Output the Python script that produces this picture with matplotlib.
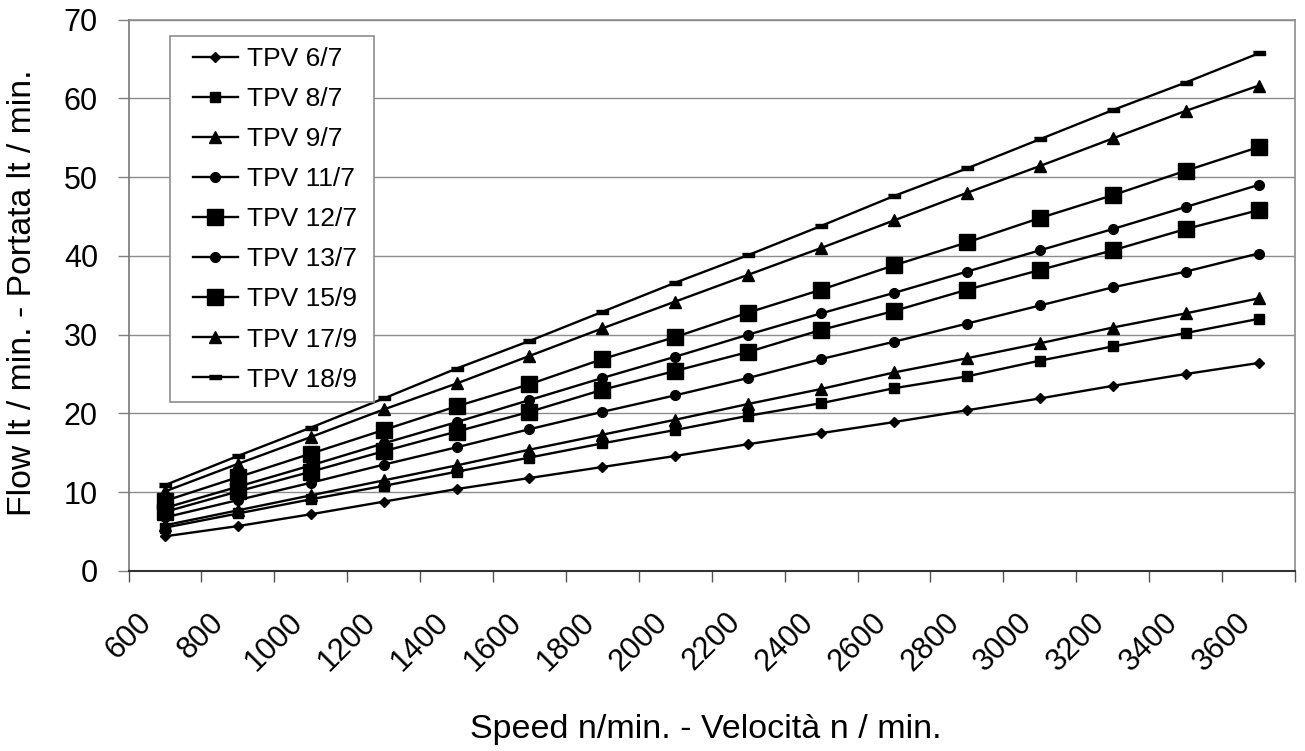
import matplotlib.pyplot as plt
from matplotlib.patches import Rectangle

plt.rcParams['font.family'] = ['Liberation Sans', 'DejaVu Sans']

# speed n/min
speed = [700, 900, 1100, 1300, 1500, 1700, 1900, 2100,
         2300, 2500, 2700, 2900, 3100, 3300, 3500, 3700]

# flow lt/min
tpv_6_7 = [4.4, 5.7, 7.2, 8.8, 10.4, 11.8, 13.2, 14.6, 16.1, 17.5, 18.9, 20.4, 21.9, 23.5, 25.0, 26.4]
tpv_8_7 = [5.5, 7.3, 9.1, 10.8, 12.6, 14.4, 16.2, 17.9, 19.7, 21.3, 23.2, 24.7, 26.7, 28.5, 30.2, 32.0]
tpv_9_7 = [5.8, 7.7, 9.6, 11.5, 13.4, 15.4, 17.3, 19.2, 21.2, 23.1, 25.2, 27.0, 28.9, 30.9, 32.7, 34.6]
tpv_11_7 = [6.8, 9.0, 11.2, 13.5, 15.7, 18.0, 20.2, 22.3, 24.5, 26.9, 29.1, 31.4, 33.7, 36.0, 38.0, 40.3]
tpv_12_7 = [7.5, 10.1, 12.6, 15.2, 17.7, 20.2, 23.0, 25.4, 27.8, 30.6, 33.0, 35.7, 38.2, 40.7, 43.4, 45.8]
tpv_13_7 = [8.0, 10.7, 13.4, 16.2, 18.9, 21.7, 24.5, 27.2, 30.0, 32.7, 35.3, 38.0, 40.7, 43.4, 46.2, 49.0]
tpv_15_9 = [8.9, 11.9, 14.9, 17.9, 20.9, 23.7, 26.9, 29.7, 32.8, 35.7, 38.8, 41.7, 44.8, 47.7, 50.8, 53.8]
tpv_17_9 = [10.1, 13.6, 17.0, 20.5, 23.8, 27.3, 30.8, 34.2, 37.6, 41.0, 44.5, 48.0, 51.4, 54.9, 58.4, 61.6]
tpv_18_9 = [10.9, 14.6, 18.2, 21.9, 25.7, 29.2, 32.9, 36.6, 40.1, 43.8, 47.6, 51.1, 54.8, 58.5, 62.0, 65.7]

names = ['TPV 6/7', 'TPV 8/7', 'TPV 9/7', 'TPV 11/7', 'TPV 12/7',
         'TPV 13/7', 'TPV 15/9', 'TPV 17/9', 'TPV 18/9']
series = [tpv_6_7, tpv_8_7, tpv_9_7, tpv_11_7, tpv_12_7,
          tpv_13_7, tpv_15_9, tpv_17_9, tpv_18_9]

dash = [(-1, -0.33), (1, -0.33), (1, 0.33), (-1, 0.33)]
markers = ['D', 's', '^', 'o', 's', 'o', 's', '^', dash]
sizes = [5.5, 7.5, 8.5, 7, 11.5, 7, 11.5, 8.5, 9]

fig = plt.figure(figsize=(13.05, 7.51), dpi=100)
ax = fig.add_axes([0.0985, 0.2397, 0.8938, 0.7343])

for name, vals, m, s in zip(names, series, markers, sizes):
    ax.plot(speed, vals, color='black', lw=1.7, marker=m, markersize=s,
            markerfacecolor='black', markeredgecolor='black', label=name)

ax.set_xlim(600, 3800)
ax.set_ylim(0, 70)
xt = list(range(600, 3801, 200))
ax.set_xticks(xt)
ax.set_xticklabels([str(v) if v < 3800 else '' for v in xt],
                   rotation=45, ha='center', fontsize=22)
ax.set_yticks(range(0, 71, 10))
ax.tick_params(axis='y', labelsize=22, length=8, width=1, color='#808080', pad=14)
ax.tick_params(axis='x', length=8, width=1, color='#555555', pad=18)
ax.grid(axis='y', color='#8c8c8c', lw=1)
ax.set_axisbelow(True)

for side in ['top', 'right']:
    ax.spines[side].set_color('#8c8c8c')
    ax.spines[side].set_linewidth(1.2)
ax.spines['left'].set_color('#777777')
ax.spines['bottom'].set_color('#333333')
ax.spines['left'].set_linewidth(1.2)
ax.spines['bottom'].set_linewidth(1.5)

# legend box
box = Rectangle((0.0356, 0.3064), 0.1748, 0.6636, transform=ax.transAxes,
                facecolor='white', edgecolor='#8c8c8c', lw=1.2, zorder=4.5)
ax.add_patch(box)
leg = ax.legend(loc='upper left', bbox_to_anchor=(0.0506, 0.96), frameon=False,
                fontsize=19, handlelength=1.7, handletextpad=0.35,
                labelspacing=0.61, borderpad=0.2, borderaxespad=0)
leg.set_zorder(5)

fig.text(0.5405, 0.028, 'Speed n/min. - Velocità n / min.', ha='center',
         va='center', fontsize=24.5)
fig.text(0.0176, 0.61, 'Flow lt / min. - Portata lt / min.', ha='center',
         va='center', rotation=90, fontsize=24.3)

fig.savefig('out.png', dpi=100)
